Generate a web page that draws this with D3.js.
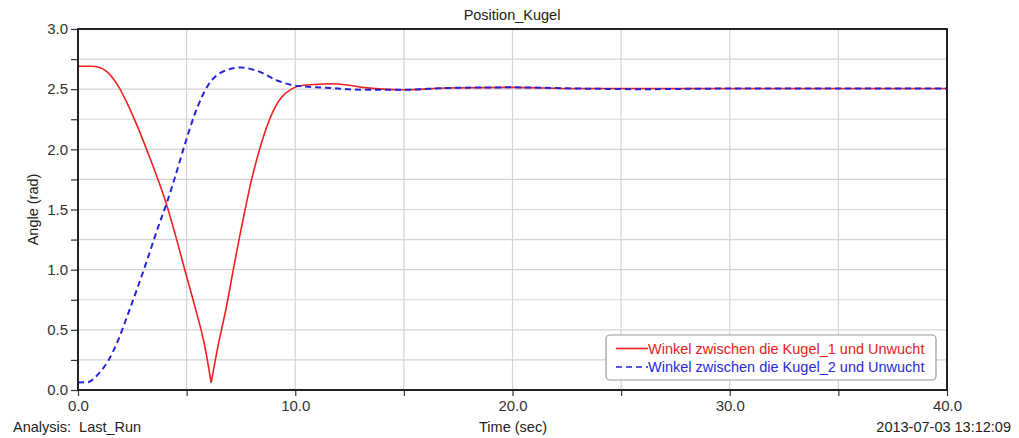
<!DOCTYPE html>
<html><head><meta charset="utf-8">
<script src="https://cdn.jsdelivr.net/npm/d3@7"></script>
<style>body{margin:0;background:#fff;} text{font-family:"Liberation Sans",Arial,sans-serif;}</style>
</head><body><svg id="c" width="1019" height="438"></svg>
<script>
const title = "Position_Kugel";
const xLabel = "Time (sec)";
const yLabel = "Angle (rad)";
const leftNote = "Analysis:  Last_Run";
const rightNote = "2013-07-03 13:12:09";
const seriesNames = ["Winkel zwischen die Kugel_1 und Unwucht", "Winkel zwischen die Kugel_2 und Unwucht"];
const xTicks = [0, 10, 20, 30, 40];
const yTicks = [0, 0.5, 1.0, 1.5, 2.0, 2.5, 3.0];

const timeRed = [0, 0.6, 1.0, 1.3, 1.84, 2.3, 2.76, 3.22, 3.68, 4.06, 4.45, 4.9, 5.37, 5.83, 6.13, 6.44, 6.83, 7.2, 7.5, 7.75, 7.98, 8.36, 8.82, 9.36, 9.82, 10.3, 11.0, 11.6, 12.4, 13.1, 14.0, 15.0, 17.0, 20.0, 23.0, 26.0, 30.0, 34.0, 37.0, 40.0];
const valRed  = [2.69, 2.69, 2.68, 2.65, 2.53, 2.37, 2.18, 1.97, 1.75, 1.55, 1.31, 1.01, 0.70, 0.37, 0.06, 0.36, 0.69, 1.05, 1.33, 1.55, 1.74, 2.0, 2.25, 2.43, 2.50, 2.53, 2.54, 2.545, 2.535, 2.515, 2.50, 2.495, 2.51, 2.515, 2.505, 2.505, 2.505, 2.505, 2.505, 2.505];

const timeBlue = [0, 0.46, 0.92, 1.38, 1.84, 2.3, 2.76, 3.22, 3.68, 4.06, 4.45, 4.9, 5.37, 5.98, 6.6, 7.5, 8.28, 9.2, 9.82, 10.6, 11.6, 13.1, 15.0, 17.0, 20.0, 23.0, 26.0, 30.0, 34.0, 37.0, 40.0];
const valBlue  = [0.063, 0.065, 0.13, 0.24, 0.41, 0.63, 0.86, 1.10, 1.35, 1.54, 1.76, 2.03, 2.29, 2.53, 2.64, 2.68, 2.65, 2.57, 2.535, 2.52, 2.51, 2.495, 2.495, 2.51, 2.515, 2.505, 2.50, 2.505, 2.505, 2.505, 2.505];

const W = 1019, H = 438;
const L = 78, R = 947, T = 29, B = 390;
const FONT = "Liberation Sans, Arial, sans-serif";
const svg = d3.select("#c");
const x = d3.scaleLinear().domain([0, 40]).range([L, R]);
const y = d3.scaleLinear().domain([0, 3]).range([B, T]);

// grid
const gx = d3.range(0, 40.01, 5), gy = d3.range(0, 3.01, 0.25);
svg.append("g").selectAll("line").data(gx).join("line")
  .attr("x1", d => x(d)).attr("x2", d => x(d)).attr("y1", T).attr("y2", B)
  .attr("stroke", "#d4d4d4").attr("stroke-width", 1.2);
svg.append("g").selectAll("line").data(gy).join("line")
  .attr("x1", L).attr("x2", R).attr("y1", d => y(d)).attr("y2", d => y(d))
  .attr("stroke", "#d4d4d4").attr("stroke-width", 1.2);

// axes
const xAxis = d3.axisBottom(x).tickValues(gx).tickSize(6).tickPadding(4).tickFormat(d => xTicks.includes(d) ? d.toFixed(1) : "");
const yAxis = d3.axisLeft(y).tickValues(gy).tickSize(7).tickPadding(3).tickFormat(d => yTicks.some(t => Math.abs(t - d) < 1e-9) ? d.toFixed(1) : "");
const ax = svg.append("g").attr("transform", `translate(0,${B})`).call(xAxis);
const ay = svg.append("g").attr("transform", `translate(${L},0)`).call(yAxis);
[ax, ay].forEach(g => {
  g.select(".domain").remove();
  g.selectAll(".tick line").attr("stroke", "#333").attr("stroke-width", 1.2);
  g.selectAll(".tick text").attr("font-size", 15).attr("fill", "#333").attr("font-family", FONT);
});

// curves: red drawn as two monotone halves meeting at its sharp minimum
const line = d3.line().x(d => x(d[0])).y(d => y(d[1])).curve(d3.curveMonotoneX);
const redPts = timeRed.map((t, i) => [t, valRed[i]]);
const iMin = d3.minIndex(valRed);
const bluePts = timeBlue.map((t, i) => [t, valBlue[i]]);
svg.append("clipPath").attr("id", "clp").append("rect").attr("x", L).attr("y", T).attr("width", R - L).attr("height", B - T);
const redPath = line(redPts.slice(0, iMin + 1)) + line(redPts.slice(iMin)).replace(/^M/, "L");
svg.append("path").attr("d", redPath).attr("fill", "none")
  .attr("stroke", "#f02020").attr("stroke-width", 1.6).attr("stroke-linejoin", "miter").attr("clip-path", "url(#clp)");
svg.append("path").datum(bluePts).attr("d", line).attr("fill", "none")
  .attr("stroke", "#2424d8").attr("stroke-width", 2).attr("stroke-dasharray", "6,4").attr("clip-path", "url(#clp)");

// frame
svg.append("rect").attr("x", L).attr("y", T).attr("width", R - L).attr("height", B - T)
  .attr("fill", "none").attr("stroke", "#222").attr("stroke-width", 2);

// texts
const txt = (xx, yy, s, anchor) => svg.append("text").attr("x", xx).attr("y", yy)
  .attr("text-anchor", anchor).attr("font-size", 14.5).attr("fill", "#222")
  .style("white-space", "pre").text(s);
txt(512, 20, title, "middle");
svg.append("text").attr("transform", `translate(38,${(T + B) / 2}) rotate(-90)`).attr("text-anchor", "middle")
  .attr("font-size", 14.5).attr("fill", "#222").text(yLabel);
txt(513, 432, xLabel, "middle");
txt(13, 432, leftNote, "start");
txt(1011, 432, rightNote, "end");

// legend
const lg = svg.append("g");
lg.append("rect").attr("x", 606).attr("y", 335).attr("width", 330).attr("height", 45).attr("rx", 4)
  .attr("fill", "#fff").attr("stroke", "#999").attr("stroke-width", 1.2);
const lcolors = ["#f02020", "#2424d8"], ldash = [null, "6,4"], ltext = ["#e82020", "#2a2ad8"];
seriesNames.forEach((n, i) => {
  const yy = 348.5 + i * 18.5;
  lg.append("line").attr("x1", 616).attr("x2", 648).attr("y1", yy).attr("y2", yy)
    .attr("stroke", lcolors[i]).attr("stroke-width", 1.6).attr("stroke-dasharray", ldash[i]);
  lg.append("text").attr("x", 648).attr("y", yy + 5).attr("font-size", 14.5).attr("fill", ltext[i]).text(n);
});
</script></body></html>
